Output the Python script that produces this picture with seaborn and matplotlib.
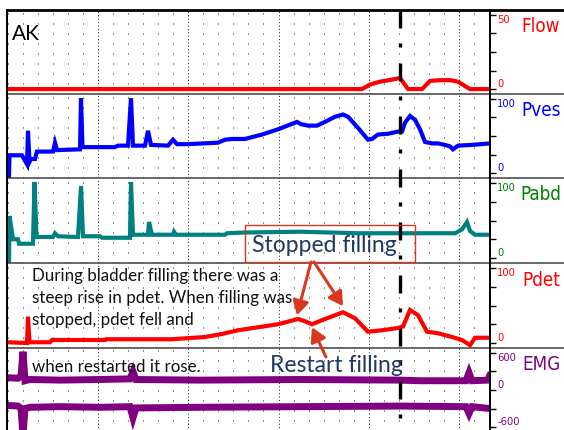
import numpy as np
import pandas as pd
import matplotlib
matplotlib.use("Agg")
import matplotlib.pyplot as plt
from matplotlib.ticker import FixedLocator
from matplotlib.patches import Rectangle
import seaborn as sns

# ---------------- data (time in chart units, values in channel units) ----------------
flow_t = [0, 355, 363, 373, 386, 393, 401, 415, 423, 433, 443, 451, 458, 463, 483]
flow_v = [0, 0, 3, 5, 6.5, 7.5, 0, 0, 5.5, 6, 6, 5, 2, 0, 0]

pves_t = [2, 2.5, 15, 17, 20, 21, 22.5, 24, 28, 30, 46, 48, 50, 73, 74, 75.5, 108, 111,
          121, 124, 126, 138, 141, 144, 161, 166, 170, 181, 211, 218, 225, 238, 255, 271,
          290, 294, 301, 310, 318, 328, 336, 341, 351, 361, 365, 371, 381, 391, 395, 398,
          403, 408, 413, 418, 425, 431, 438, 443, 446, 451, 465, 483]
pves_v = [-6, 24, 24, 19, 12, 57, 15, 19, 19, 29, 29, 41, 31, 32, 101, 35, 35, 37,
          37, 101, 37, 37, 57, 38, 37, 45, 39, 39, 41, 45, 46, 46, 52, 59,
          69, 66, 64, 64, 69, 76, 79, 76, 61, 45, 46, 52, 53, 56, 56, 68,
          77, 72, 59, 42, 40, 40, 38, 36, 32, 37, 38, 40]

pabd_t = [2, 2.5, 6, 11, 12, 26, 27.5, 29.5, 46, 48, 51, 71, 74, 76, 93, 95, 123, 124,
          126, 141, 142, 145, 166, 167, 169, 218, 220, 238, 293, 351, 448, 455, 460, 463,
          468, 483]
pabd_v = [-6, 56, 25, 25, 19, 19, 101, 28, 28, 33, 29, 28, 96, 29, 29, 27, 27, 101,
          31, 31, 48, 31, 31, 35, 31, 31, 33, 34, 35, 33, 33, 38, 48, 36,
          31, 31]

pdet_t = [0, 20, 21, 22.5, 43, 45, 98, 99, 165, 198, 215, 231, 251, 271, 291, 298, 305,
          318, 336, 348, 361, 375, 391, 396, 403, 411, 420, 431, 445, 455, 463, 468, 483]
pdet_v = [1, 0, 35, 1, 1, 4, 4, 5, 5, 8, 12, 17, 21, 25, 32, 29, 25,
          32, 41, 33, 15, 17, 20, 22, 44, 37, 15, 13, 8, 4, -3, 7, 7]

emg_up_t = [0, 11, 14, 16, 18, 23, 53, 93, 123, 126, 129, 193, 293, 393, 413, 459, 462, 465, 481, 483]
emg_up_v = [200, 190, 220, 620, 150, 170, 160, 170, 180, 300, 170, 160, 170, 160, 150, 150, 280, 150, 160, 250]
emg_lo_t = [0, 11, 14, 16, 18, 23, 53, 93, 123, 126, 129, 193, 293, 393, 459, 462, 465, 483]
emg_lo_v = [-250, -260, -300, -740, -300, -280, -270, -280, -270, -450, -290, -280, -270, -260, -270, -380, -270, -300]

event_t = 393          # dash-dot event marker
t_end = 483

channel_names = ["Flow", "Pves", "Pabd", "Pdet", "EMG"]
channel_ranges = [(0, 50), (0, 100), (0, 100), (0, 100), (-600, 600)]
channel_ticklabels = [["50", "0"], ["100", "0"], ["100", "0"], ["100", "0"], ["600", "0", "-600"]]
channel_tickvalues = [[50, 0], [100, 0], [100, 0], [100, 0], [600, 0, -600]]

# ---------------- styling ----------------
sns.set_theme(style="white")
plt.rcParams["font.family"] = ["Lato", "DejaVu Sans"]
NARROW = ["Liberation Sans Narrow", "DejaVu Sans"]

trace_colors = ["#FF0000", "#0000FF", "#008080", "#FF0000", "#800080"]
label_colors = ["#FF0000", "#0000FF", "#008000", "#FF0000", "#800080"]
NAVY = "#1F3864"
ARROW = "#D9381E"

W, H = 564, 430
fig = plt.figure(figsize=(W / 100, H / 100), dpi=100)
fig.patch.set_facecolor("white")

edges = [10, 94, 178, 263, 348, 432]
X0, X1, XR = 7, 490, 564


def fx(px):
    return px / W


def fy(px):
    return (H - px) / H


major = [91 + 90.25 * k for k in range(5)]
minor = [m for m in np.arange(0.75, t_end, 90.25 / 6)
         if min(abs(m - mj) for mj in major) > 2]

series = [
    [(flow_t, flow_v)],
    [(pves_t, pves_v)],
    [(pabd_t, pabd_v)],
    [(pdet_t, pdet_v)],
    [(emg_up_t, emg_up_v), (emg_lo_t, emg_lo_v)],
]

axes = []
for i, name in enumerate(channel_names):
    top, bot = edges[i], edges[i + 1]
    ax = fig.add_axes([fx(X0), fy(bot), fx(X1 - X0), (bot - top) / H])
    ax.set_facecolor("none")
    lw = 5.0 if name == "EMG" else 3.0
    for tt, vv in series[i]:
        df = pd.DataFrame({"t": tt, "v": vv})
        sns.lineplot(data=df, x="t", y="v", ax=ax, color=trace_colors[i], linewidth=lw,
                     sort=False, estimator=None, solid_joinstyle="miter")
    lo, hi = channel_ranges[i]
    r = hi - lo
    ax.set_xlim(0, t_end)
    ax.set_ylim(lo - r * 5 / 75, hi + r * 5 / 75)
    ax.set_xlabel("")
    ax.set_ylabel("")

    ax.xaxis.set_major_locator(FixedLocator(major))
    ax.xaxis.set_minor_locator(FixedLocator(minor))
    ax.tick_params(axis="x", which="both", length=0, labelbottom=False)
    ax.grid(False)
    ax.grid(True, which="major", axis="x", color="#222222", linewidth=0.72,
            linestyle=(0, (1, 2.4)))
    ax.grid(True, which="minor", axis="x", color="#222222", linewidth=0.72,
            linestyle=(0, (1, 9)))
    ax.set_axisbelow(True)

    ax.yaxis.tick_right()
    ax.set_yticks(np.linspace(lo, hi, 5))
    ax.tick_params(axis="y", which="major", direction="out", length=4, width=1,
                   color="black", labelright=False, labelleft=False, left=False, right=True)

    for sp in ["left", "right"]:
        ax.spines[sp].set_visible(True)
        ax.spines[sp].set_color("black")
        ax.spines[sp].set_linewidth(1.4)
    ax.spines["bottom"].set_visible(True)
    ax.spines["bottom"].set_color("#404040")
    ax.spines["bottom"].set_linewidth(1.1)
    ax.spines["top"].set_visible(i == 0)
    ax.spines["top"].set_color("black")
    ax.spines["top"].set_linewidth(2.0)

    for val, lab in zip(channel_tickvalues[i], channel_ticklabels[i]):
        va = "top" if val == hi else ("bottom" if val == lo or val == 0 else "center")
        ax.text(1.015, val, lab, transform=ax.get_yaxis_transform(), ha="left", va=va,
                fontsize=8, color=label_colors[i], family=NARROW, fontstretch="condensed",
                clip_on=False)

    lax = fig.add_axes([fx(X1), fy(bot), fx(XR - X1), (bot - top) / H])
    lax.set_facecolor("none")
    lax.set_xticks([])
    lax.set_yticks([])
    lax.spines["left"].set_visible(False)
    lax.spines["right"].set_visible(False)
    lax.spines["bottom"].set_visible(True)
    lax.spines["bottom"].set_color("#404040")
    lax.spines["bottom"].set_linewidth(1.1)
    lax.spines["top"].set_visible(i == 0)
    lax.spines["top"].set_color("black")
    lax.spines["top"].set_linewidth(2.0)
    lax.text(0.69, 0.8, name, transform=lax.transAxes, ha="center", va="center",
             fontsize=13.5, color=label_colors[i], family=NARROW, fontstretch="condensed")
    axes.append(ax)

ax_pdet = axes[3]

# overlay axes for the event marker and arrows
ov = fig.add_axes([fx(X0), fy(edges[-1]), fx(X1 - X0), (edges[-1] - edges[0]) / H])
ov.set_xlim(0, t_end)
ov.set_ylim(0, 1)
ov.axis("off")
ov.axvline(event_t, ymin=1, ymax=0, color="black", linewidth=2.4,
           linestyle=(0, (5.4, 4.5, 1.2, 4.8)), zorder=10)

arrow_kw = dict(arrowstyle="-|>,head_length=0.7,head_width=0.4", color=ARROW, lw=2.2,
                shrinkA=0, shrinkB=0)
ov.annotate("", xy=(290, 37), xycoords=ax_pdet.transData,
            xytext=(311, H - 262), textcoords="figure pixels", arrowprops=arrow_kw)
ov.annotate("", xy=(336, 49), xycoords=ax_pdet.transData,
            xytext=(314, H - 262), textcoords="figure pixels", arrowprops=arrow_kw)
ov.annotate("", xy=(305, 21), xycoords=ax_pdet.transData,
            xytext=(326, H - 357), textcoords="figure pixels", arrowprops=arrow_kw)

# text annotations
fig.text(fx(12), fy(34), "AK", fontsize=15, ha="left", va="center", color="black")
fig.text(fx(32), fy(268),
         "During bladder filling there was a\nsteep rise in pdet. When filling was\nstopped, pdet fell and",
         fontsize=12.2, ha="left", va="top", color="#111111", linespacing=1.47)
fig.text(fx(32), fy(367), "when restarted it rose.", fontsize=12.2, ha="left", va="center",
         color="#111111")
fig.add_artist(Rectangle((fx(245), fy(262)), fx(170), 37 / H, transform=fig.transFigure,
                         fill=False, edgecolor=ARROW, linewidth=1.0))
fig.text(fx(324.5), fy(245), "Stopped filling", fontsize=16.5, ha="center", va="center",
         color=NAVY)
fig.text(fx(336.5), fy(366), "Restart filling", fontsize=16.5, ha="center", va="center",
         color=NAVY)

fig.savefig("out.png", dpi=100, facecolor="white")
